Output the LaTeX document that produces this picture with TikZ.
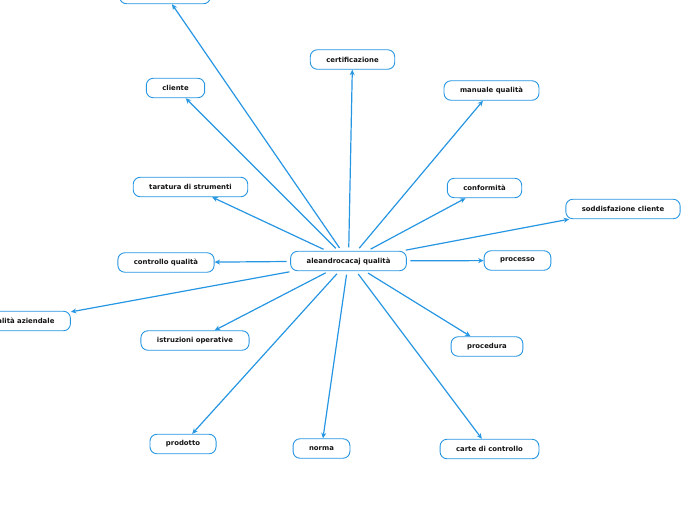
\documentclass[tikz,border=0pt]{standalone}
\usepackage{fontspec}
\setmainfont{DejaVu Sans}
\usetikzlibrary{arrows.meta}
\definecolor{mmblue}{RGB}{38,150,226}
\definecolor{mmtext}{RGB}{20,20,20}
\tikzset{
  topic/.style={draw=mmblue, line width=0.9pt, rounded corners=7pt, fill=white,
    minimum height=19.5pt, inner xsep=16pt, inner ysep=0pt,
    font=\fontsize{6.9}{8}\selectfont\bfseries, text=mmtext},
  link/.style={draw=mmblue, line width=1.2pt, shorten <=3.5pt,
    -{Stealth[length=5.5pt,width=5pt]}}
}
\begin{document}
\begin{tikzpicture}[x=1pt,y=-1pt]
\useasboundingbox (0,0) rectangle (696,520);
\node[topic] (c) at (348.5,261) {aleandrocacaj qualità};
\node[topic, minimum width=91pt] (top) at (165,-6) {};
\node[topic] (cert) at (352.5,59.5) {certificazione};
\node[topic] (cli) at (175.5,88) {cliente};
\node[topic] (man) at (491.5,90.5) {manuale qualità};
\node[topic] (tar) at (190.5,187) {taratura di strumenti};
\node[topic] (conf) at (484.5,188) {conformità};
\node[topic] (sodd) at (623,209) {soddisfazione cliente};
\node[topic] (ctrl) at (166,262.5) {controllo qualità};
\node[topic] (proc) at (517.5,260.5) {processo};
\node[topic] (qaz) at (21,321) {qualità aziendale};
\node[topic] (istr) at (195,340.5) {istruzioni operative};
\node[topic] (pced) at (487,346.5) {procedura};
\node[topic] (prod) at (183,444) {prodotto};
\node[topic] (norma) at (321.5,448.5) {norma};
\node[topic] (carte) at (489.5,449) {carte di controllo};
\foreach \t in {top,cert,cli,man,tar,conf,sodd,ctrl,proc,qaz,istr,pced,prod,norma,carte}
  \draw[link] (c) -- (\t);
\end{tikzpicture}
\end{document}
